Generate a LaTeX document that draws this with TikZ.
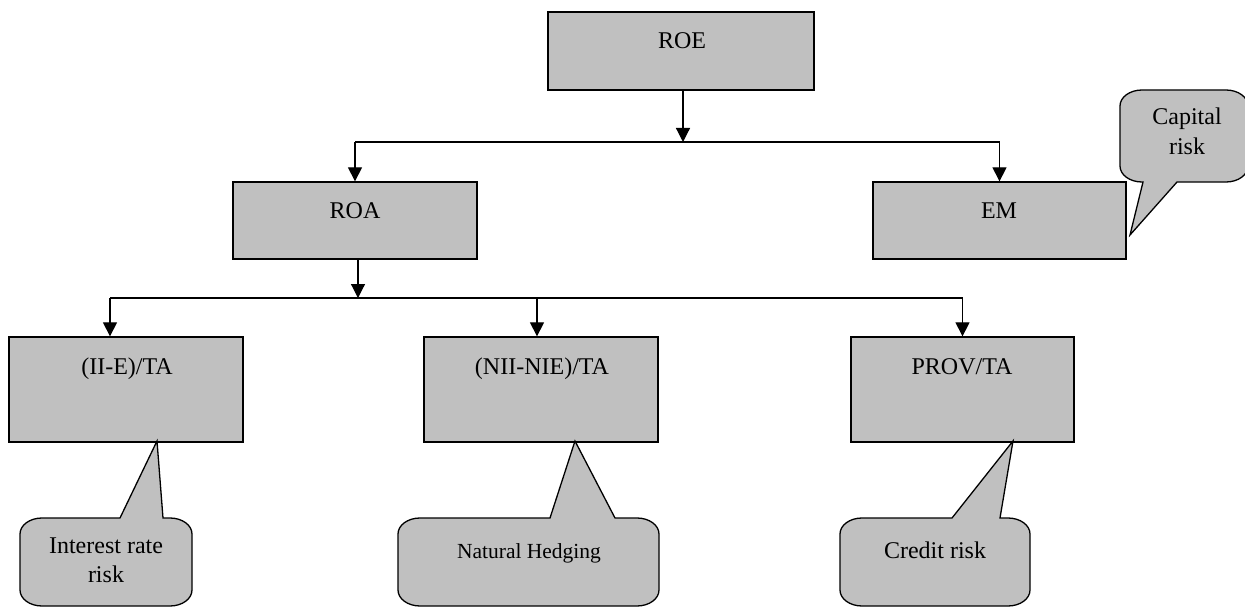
\documentclass[tikz,border=0pt]{standalone}
\usepackage{fontspec}
\setmainfont{Liberation Serif}
\usetikzlibrary{arrows.meta}
\definecolor{boxgray}{HTML}{C0C0C0}
\tikzset{
  box/.style={draw=black, fill=boxgray, line width=1.3pt, rectangle, inner sep=0pt},
  txt/.style={font=\fontsize{24}{29}\selectfont, anchor=base, inner sep=0pt, align=center},
  smalltxt/.style={font=\fontsize{21.5}{26}\selectfont, anchor=base, inner sep=0pt, align=center},
  arr/.style={line width=1.2pt, -{Triangle[length=14pt,width=14pt]}},
  conn/.style={line width=1.2pt},
  call/.style={draw=black, fill=boxgray, line width=1.3pt, line join=miter},
}
% callout with tail on top edge: L T R B b1 b2 tipx tipy
\newcommand\calltop[8]{%
  \path[call] ({#1+22},#2) -- (#5,#2) -- (#7,#8) -- (#6,#2) -- ({#3-22},#2)
    .. controls ({#3-10},#2) and (#3,{#2+7}) .. (#3,{#2+16})
    -- (#3,{#4-16}) .. controls (#3,{#4-7}) and ({#3-10},#4) .. ({#3-22},#4)
    -- ({#1+22},#4) .. controls ({#1+10},#4) and (#1,{#4-7}) .. (#1,{#4-16})
    -- (#1,{#2+16}) .. controls (#1,{#2+7}) and ({#1+10},#2) .. cycle;}
% callout with tail on bottom edge: L T R B b1 b2 tipx tipy
\newcommand\callbot[8]{%
  \path[call] ({#1+22},#2) -- ({#3-22},#2)
    .. controls ({#3-10},#2) and (#3,{#2+7}) .. (#3,{#2+16})
    -- (#3,{#4-16}) .. controls (#3,{#4-7}) and ({#3-10},#4) .. ({#3-22},#4)
    -- (#6,#4) -- (#7,#8) -- (#5,#4)
    -- ({#1+22},#4) .. controls ({#1+10},#4) and (#1,{#4-7}) .. (#1,{#4-16})
    -- (#1,{#2+16}) .. controls (#1,{#2+7}) and ({#1+10},#2) .. cycle;}
\begin{document}
\begin{tikzpicture}[x=1pt,y=-1pt]
\useasboundingbox (0,0) rectangle (1245,607);

% boxes
\node[box, minimum width=266pt, minimum height=78pt] (roe) at (681,51) {};
\node[box, minimum width=244pt, minimum height=77pt] (roa) at (355,220.5) {};
\node[box, minimum width=253pt, minimum height=77pt] (em) at (999.5,220.5) {};
\node[box, minimum width=234pt, minimum height=105pt] (b1) at (126,389.5) {};
\node[box, minimum width=234pt, minimum height=105pt] (b2) at (541,389.5) {};
\node[box, minimum width=223pt, minimum height=105pt] (b3) at (962.5,389.5) {};

% box texts
\node[txt] (troe) at (682,49) {ROE};
\node[txt] (troa) at (355,218) {ROA};
\node[txt] (tem) at (999,218) {EM};
\node[txt] (tb1) at (127,374) {(II-E)/TA};
\node[txt] (tb2) at (542,374) {(NII-NIE)/TA};
\node[txt] (tb3) at (962,374) {PROV/TA};

% connectors
\coordinate (j1) at (683,142);
\coordinate (j2) at (358,298);
\draw[arr] (roe.south -| j1) -- (j1);
\draw[conn] (j1) -- (j1 -| roa.north);
\draw[conn] (j1) -- (j1 -| em.north);
\draw[arr] (j1 -| roa.north) -- (roa.north);
\draw[arr] (j1 -| em.north) -- (em.north);

\draw[arr] (roa.south -| j2) -- (j2);
\coordinate (d1) at ([xshift=-16pt]b1.north);
\coordinate (d2) at ([xshift=-4pt]b2.north);
\coordinate (d3) at (b3.north);
\draw[conn] (j2 -| d1) -- (j2 -| d3);
\draw[arr] (j2 -| d1) -- (d1);
\draw[arr] (j2 -| d2) -- (d2);
\draw[arr] (j2 -| d3) -- (d3);

% callouts
\callbot{1120}{90}{1248}{182}{1143}{1177}{1130}{235}
\calltop{20}{518}{192}{606}{120}{163}{157}{441}
\calltop{398}{518}{659}{606}{550}{615}{575}{441}
\calltop{840}{518}{1030}{606}{952}{1000}{1013}{441}

% callout texts (base anchor = last line baseline)
\node[txt] (tcap) at (1187,154) {Capital\\risk};
\node[txt] (tint) at (106,582) {Interest rate\\risk};
\node[smalltxt] (tnat) at (529,558) {Natural Hedging};
\node[txt] (tcred) at (935,558) {Credit risk};
\end{tikzpicture}
\end{document}
